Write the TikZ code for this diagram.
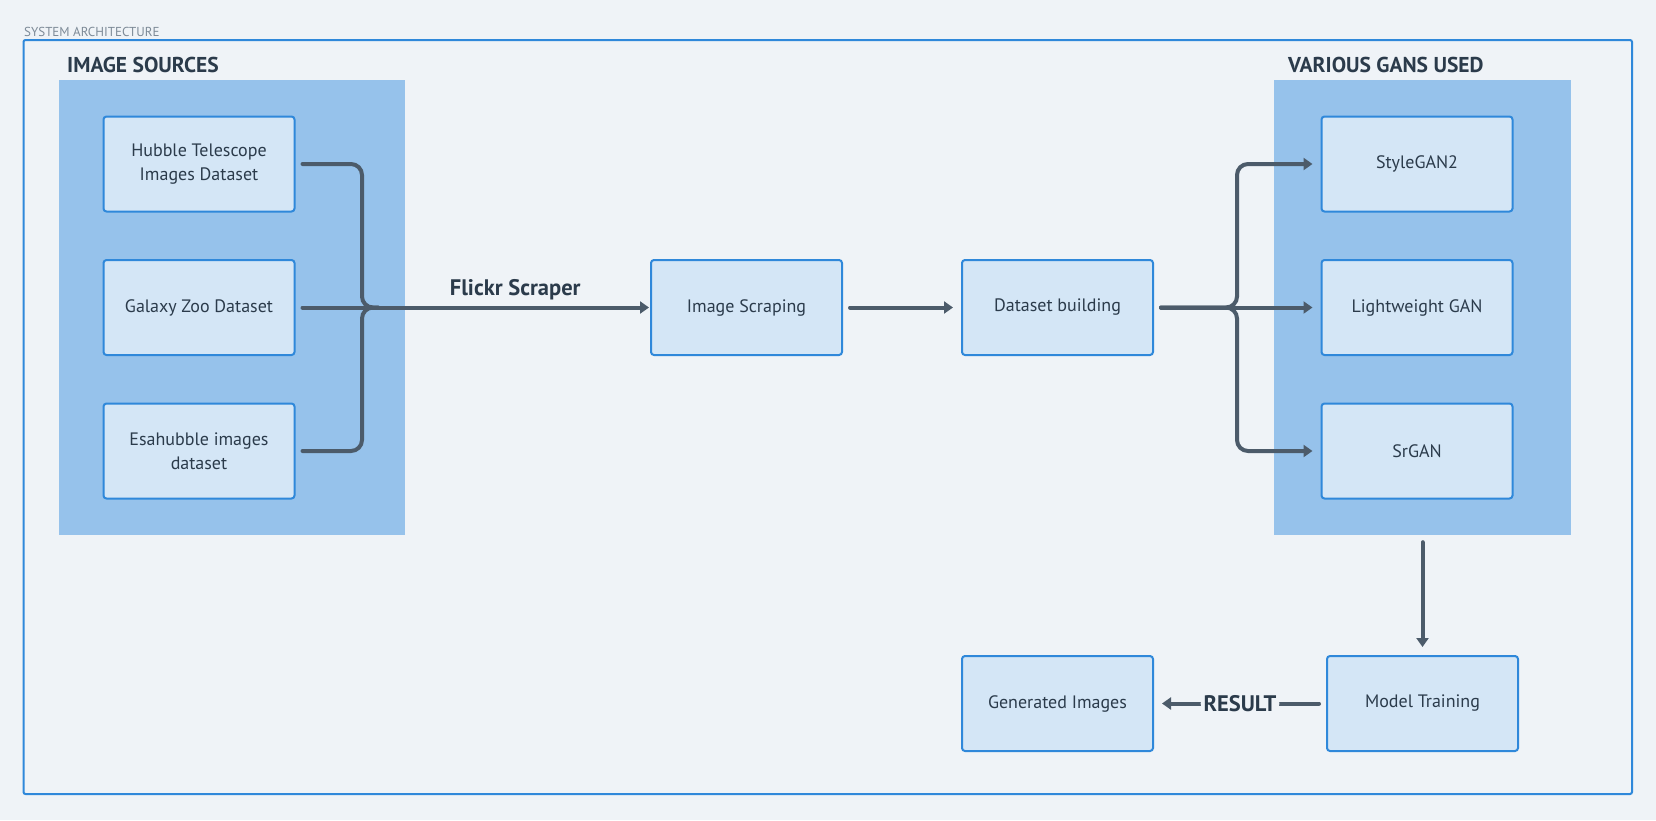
\documentclass[tikz,border=0pt]{standalone}
\usepackage{fontspec}
\setmainfont{PT Sans}
\usetikzlibrary{arrows.meta,positioning,calc}
\definecolor{BgGray}{HTML}{EFF3F7}
\definecolor{PanelBlue}{HTML}{96C2EB}
\definecolor{BoxBlue}{HTML}{D4E6F6}
\definecolor{EdgeBlue}{HTML}{2F88DA}
\definecolor{LineGray}{HTML}{4C5B6A}
\definecolor{InkDark}{HTML}{2B3B4B}
\definecolor{CapGray}{HTML}{7D8A97}

\begin{document}
\begin{tikzpicture}[x=1pt, y=-1pt,
    panel/.style={fill=PanelBlue, inner sep=0pt, minimum height=455pt},
    box/.style={draw=EdgeBlue, line width=2pt, fill=BoxBlue, rounded corners=3pt,
        minimum width=191pt, minimum height=95pt, align=center, text=InkDark,
        font=\fontsize{18}{23.5}\selectfont},
    title/.style={anchor=west, text=InkDark, inner sep=0pt,
        font=\bfseries\fontsize{21.5}{25}\selectfont},
    flowlabel/.style={text=InkDark, font=\bfseries\fontsize{22.5}{26}\selectfont},
    conn/.style={draw=LineGray, line width=4pt, line cap=round,
        rounded corners=11pt, shorten <=7pt},
    tip/.style={-{Triangle[length=9pt, width=12pt]}, shorten >=8pt}]
\fill[BgGray] (0,0) rectangle (1656,820);
\useasboundingbox (0,0) rectangle (1656,820);

% frame
\node[anchor=west, inner sep=0pt, text=CapGray, font=\fontsize{13}{15}\selectfont]
    (sysname) at (24,32) {SYSTEM ARCHITECTURE};
\draw[EdgeBlue, line width=2pt, rounded corners=2pt] (23.5,40) rectangle (1632,794);

% panels
\node[panel, minimum width=346pt] (srcpanel) at (232,307.5) {};
\node[panel, minimum width=297pt] (ganpanel) at (1422.5,307.5) {};
\node[title] (srctitle) at (67,65) {IMAGE SOURCES};
\node[title] (gantitle) at (1288,65) {VARIOUS GANS USED};

% sources
\node[box] (hubble) at (199,164) {Hubble Telescope\\Images Dataset};
\node[box] (galaxy) at (199,307.5) {Galaxy Zoo Dataset};
\node[box] (esa) at (199,451) {Esahubble images\\dataset};

% pipeline
\node[box] (scraping) at (746.5,307.5) {Image Scraping};
\node[box] (dataset) at (1057.5,307.5) {Dataset building};

% gans
\node[box] (stylegan) at (1417,164) {StyleGAN2};
\node[box] (lightgan) at (1417,307.5) {Lightweight GAN};
\node[box] (srgan) at (1417,451) {SrGAN};

\node[box] (training) at (1422.5,703.5) {Model Training};
\node[box] (generated) at (1057.5,703.5) {Generated Images};

\coordinate (srcjoin) at (362,307.5);
\coordinate (ganjoin) at (1237,307.5);

\draw[conn] (hubble.east) -| (srcjoin) -- ++(16,0);
\draw[conn] (esa.east) -| (srcjoin) -- ++(16,0);
\draw[conn, tip, shorten >=1pt] (galaxy.east) -- node[pos=0.62, above=6pt, inner sep=0pt,
    flowlabel] (flickr) {Flickr Scraper} (scraping.west);
\draw[conn, tip] (scraping.east) -- (dataset.west);

\draw[conn, tip] (dataset.east) -- (ganjoin) |- (stylegan.west);
\draw[conn, tip] (dataset.east) -- (lightgan.west);
\draw[conn, tip] (dataset.east) -- (ganjoin) |- (srgan.west);

\draw[conn, tip] (ganpanel.south) -- (training.north);
\draw[conn, tip] (training.west) -- node[fill=BgGray, inner sep=3pt, flowlabel]
    (result) {RESULT} (generated.east);
\end{tikzpicture}
\end{document}
